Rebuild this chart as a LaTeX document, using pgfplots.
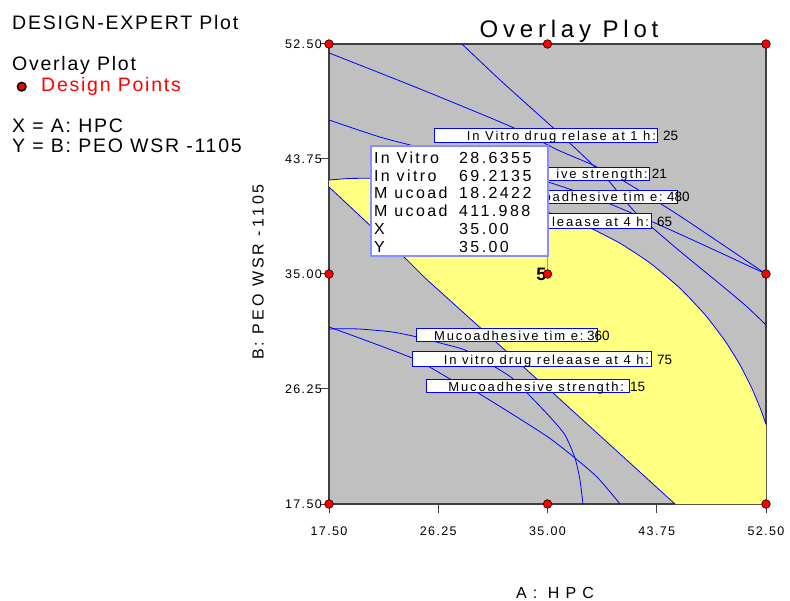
\documentclass[border=0pt]{standalone}
\usepackage{pgfplots}
\pgfplotsset{compat=1.18}
\usepackage{fontspec}
\setmainfont{Liberation Sans}
\newfontfamily\tickfont[LetterSpace=11]{Liberation Sans}
\newfontfamily\lblfont[LetterSpace=14.5]{Liberation Sans}
\newfontfamily\tipfont[LetterSpace=15]{Liberation Sans}
\newfontfamily\titlefont[LetterSpace=20]{Liberation Sans}
\newfontfamily\leftfont[LetterSpace=9]{Liberation Sans}
\newfontfamily\xlabfont[LetterSpace=38]{Liberation Sans}
\newfontfamily\ylabfont[LetterSpace=19]{Liberation Sans}
\definecolor{dxgray}{RGB}{192,192,192}
\definecolor{dxyellow}{RGB}{255,255,128}
\definecolor{dxaxis}{RGB}{64,64,64}
\definecolor{tipblue}{RGB}{140,140,255}
\definecolor{flagblue}{RGB}{0,0,255}
\newcommand{\lblf}{\lblfont\fontsize{13}{13}\selectfont}
\newcommand{\valf}{\fontsize{13.5}{13.5}\selectfont}
\newcommand{\tipf}{\tipfont\fontsize{16}{16}\selectfont}
\newcommand{\leftf}{\leftfont\fontsize{19.5}{19.5}\selectfont}
\begin{document}
\begin{tikzpicture}[x=1pt,y=1pt]
\path[use as bounding box] (0,0) rectangle (790,600);
\begin{axis}[
  at={(329pt,96pt)}, anchor=south west,
  width=437pt, height=460pt, scale only axis,
  xmin=17.5, xmax=52.5, ymin=17.5, ymax=52.5,
  clip=false,
  axis background/.style={fill=dxgray},
  axis line style={draw=dxaxis, line width=1.3pt},
  xtick={17.5,26.25,35,43.75,52.5},
  ytick={17.5,26.25,35,43.75,52.5},
  xticklabels={17.50,26.25,35.00,43.75,52.50},
  yticklabels={17.50,26.25,35.00,43.75,52.50},
  tick align=outside, tick pos=left,
  major tick length=9pt,
  tick style={draw=dxaxis, line width=1pt},
  /pgf/number format/assume math mode=true,
  ticklabel style={font=\tickfont\fontsize{12.5}{12.5}\selectfont, inner sep=0pt},
  xticklabel style={yshift=-14pt},
  yticklabel style={xshift=2pt},
]
% desirable (yellow) region: between release-at-4h contours 65 and 75
\addplot[fill=dxyellow, draw=none] coordinates {
 (17.5,42.15) (19.18,42.27) (21.58,42.27) (23.99,42.08) (26.39,41.70)
 (28.79,41.24) (31.20,40.71) (33.60,40.10) (36.00,39.40) (38.40,38.51)
 (40.81,37.34) (43.21,35.84) (45.61,33.92) (47.61,31.91) (49.22,29.91)
 (50.42,28.08) (51.38,26.28) (52.10,24.64) (52.5,23.55) (52.5,17.5)
 (45.21,17.5) (40.01,22.00) (35.36,26.02) (34.24,26.93) (31.76,29.07)
 (25.19,34.70) (23.75,36.07) (17.5,41.62)} -- cycle;
% contour lines
\addplot[flagblue, line width=0.8pt, smooth, tension=0.3] coordinates {
 (17.5,42.15) (19.18,42.27) (21.58,42.27) (23.99,42.08) (26.39,41.70)
 (28.79,41.24) (31.20,40.71) (33.60,40.10) (36.00,39.40) (38.40,38.51)
 (40.81,37.34) (43.21,35.84) (45.61,33.92) (47.61,31.91) (49.22,29.91)
 (50.42,28.08) (51.38,26.28) (52.10,24.64) (52.5,23.55)};
\addplot[flagblue, line width=0.8pt] coordinates {
 (17.5,41.62) (23.75,36.07) (25.19,34.70) (31.76,29.07) (34.24,26.93)
 (35.36,26.02) (40.01,22.00) (45.21,17.5)};
\addplot[flagblue, line width=0.8pt, smooth, tension=0.4] coordinates {
 (28.15,52.5) (31.20,49.76) (35.20,46.34) (37.20,44.59) (38.64,43.29)
 (39.85,42.15) (42.01,39.72) (45.21,37.05) (48.42,34.54) (50.82,32.64) (52.5,31.12)};
\addplot[flagblue, line width=0.8pt, smooth, tension=0.4] coordinates {
 (17.5,51.82) (24.79,49.08) (32.16,46.18) (35.84,44.43) (38.64,43.29)
 (40.97,42.15) (45.61,39.41) (52.5,35.0)};
\addplot[flagblue, line width=0.8pt, smooth, tension=0.4] coordinates {
 (17.5,46.72) (21.58,45.42) (25.59,44.43) (30.39,43.22) (35.04,42.00)
 (39.21,40.63) (43.61,38.88) (48.02,36.98) (52.5,35.0)};
\addplot[flagblue, line width=0.8pt, smooth, tension=0.4] coordinates {
 (17.5,30.82) (19.82,30.82) (22.55,30.59) (24.55,30.21) (26.39,29.75)
 (28.39,29.22) (30.39,28.15) (32.16,27.09) (33.60,25.72) (35.20,24.12)
 (36.40,22.75) (37.20,21.00) (37.60,19.33) (37.84,17.5)};
\addplot[flagblue, line width=0.8pt, smooth, tension=0.4] coordinates {
 (17.5,30.97) (24.15,28.61) (27.35,26.93) (29.43,25.95) (34.80,22.75)
 (37.20,21.00) (39.04,19.48) (40.81,17.5)};
% contour flags
\draw[flagblue, line width=0.9pt, fill=white] (axis cs:25.91,45.04) rectangle (axis cs:43.77,46.11);
\node[anchor=base east, inner sep=0, font=\lblf] at (axis cs:43.70,45.12) {In Vitro drug relase at 1 h:};
\node[anchor=base west, inner sep=0, font=\valf] at (axis cs:44.25,45.12) {25};
\draw[flagblue, line width=0.9pt, fill=white] (axis cs:26.79,42.15) rectangle (axis cs:43.13,43.14);
\node[anchor=base east, inner sep=0, font=\lblf] at (axis cs:43.05,42.23) {ive strength:};
\node[anchor=base west, inner sep=0, font=\valf] at (axis cs:43.35,42.23) {21};
\draw[flagblue, line width=0.9pt, fill=white] (axis cs:30.72,40.40) rectangle (axis cs:45.37,41.39);
\node[anchor=base east, inner sep=0, font=\lblf] at (axis cs:44.25,40.48) {oadhesive tim e:};
\node[anchor=base west, inner sep=0, font=\valf] at (axis cs:44.57,40.48) {480};
\draw[flagblue, line width=0.9pt, fill=white] (axis cs:24.15,38.50) rectangle (axis cs:43.29,39.57);
\node[anchor=base east, inner sep=0, font=\lblf] at (axis cs:43.15,38.58) {leaase at 4 h:};
\node[anchor=base west, inner sep=0, font=\valf] at (axis cs:43.77,38.58) {65};
\draw[flagblue, line width=0.9pt, fill=white] (axis cs:24.47,29.83) rectangle (axis cs:39.04,30.89);
\node[anchor=base east, inner sep=0, font=\lblf] at (axis cs:37.90,29.91) {Mucoadhesive tim e:};
\node[anchor=base west, inner sep=0, font=\valf] at (axis cs:38.16,29.91) {360};
\draw[flagblue, line width=0.9pt, fill=white] (axis cs:24.15,28.00) rectangle (axis cs:43.29,29.07);
\node[anchor=base east, inner sep=0, font=\lblf] at (axis cs:43.15,28.08) {In vitro drug releaase at 4 h:};
\node[anchor=base west, inner sep=0, font=\valf] at (axis cs:43.77,28.08) {75};
\draw[flagblue, line width=0.9pt, fill=white] (axis cs:25.27,25.95) rectangle (axis cs:41.53,27.01);
\node[anchor=base east, inner sep=0, font=\lblf] at (axis cs:41.15,26.03) {Mucoadhesive strength:};
\node[anchor=base west, inner sep=0, font=\valf] at (axis cs:41.61,26.03) {15};
% tooltip
\draw[tipblue, line width=1.3pt, fill=white] (axis cs:20.86,36.37) rectangle (axis cs:35.04,44.74);
\draw[tipblue, line width=1pt] (axis cs:34.96,36.37) -- (axis cs:34.96,35.0);
\node[anchor=base west, inner sep=0, font=\tipf] at (axis cs:21.10,43.41) {In Vitro};
\node[anchor=base west, inner sep=0, font=\tipf] at (axis cs:27.91,43.41) {28.6355};
\node[anchor=base west, inner sep=0, font=\tipf] at (axis cs:21.10,42.06) {In vitro};
\node[anchor=base west, inner sep=0, font=\tipf] at (axis cs:27.91,42.06) {69.2135};
\node[anchor=base west, inner sep=0, font=\tipf] at (axis cs:21.10,40.71) {M ucoad};
\node[anchor=base west, inner sep=0, font=\tipf] at (axis cs:27.91,40.71) {18.2422};
\node[anchor=base west, inner sep=0, font=\tipf] at (axis cs:21.10,39.37) {M ucoad};
\node[anchor=base west, inner sep=0, font=\tipf] at (axis cs:27.91,39.37) {411.988};
\node[anchor=base west, inner sep=0, font=\tipf] at (axis cs:21.10,38.02) {X};
\node[anchor=base west, inner sep=0, font=\tipf] at (axis cs:27.91,38.02) {35.00};
\node[anchor=base west, inner sep=0, font=\tipf] at (axis cs:21.10,36.67) {Y};
\node[anchor=base west, inner sep=0, font=\tipf] at (axis cs:27.91,36.67) {35.00};
% replicate count
\node[anchor=east, inner sep=0, font=\bfseries\fontsize{18}{18}\selectfont] at (axis cs:34.92,35.0) {5};
% design points
\addplot[only marks, mark=*, mark size=4.3pt, mark options={fill=red, draw=black, line width=0.6pt}] coordinates {
 (17.5,17.5) (35,17.5) (52.5,17.5) (17.5,35) (35,35) (52.5,35) (17.5,52.5) (35,52.5) (52.5,52.5)};
\end{axis}
% texts outside the axis
\node[anchor=base west, inner sep=0, font=\leftf] at (12,570.7) {DESIGN-EXPERT Plot};
\node[anchor=base west, inner sep=0, font=\leftf] at (12,529.3) {Overlay Plot};
\node[circle, draw=black, fill=red, line width=1.6pt, minimum size=8.5pt, inner sep=0] at (21.7,513.3) {};
\node[anchor=base west, inner sep=0, text=red, font=\leftf] at (41,508.3) {Design Points};
\node[anchor=base west, inner sep=0, font=\leftf] at (12,467.7) {X = A: HPC};
\node[anchor=base west, inner sep=0, font=\leftf] at (12,447.3) {Y = B: PEO WSR -1105};
\node[anchor=base, inner sep=0, font=\titlefont\fontsize{24}{24}\selectfont] at (569,562) {Overlay Plot};
\node[anchor=base, inner sep=0, font=\xlabfont\fontsize{16}{16}\selectfont] at (555,2) {A: HPC};
\node[rotate=90, inner sep=0, font=\ylabfont\fontsize{16}{16}\selectfont] at (258,328) {B: PEO WSR -1105};
\end{tikzpicture}
\end{document}
